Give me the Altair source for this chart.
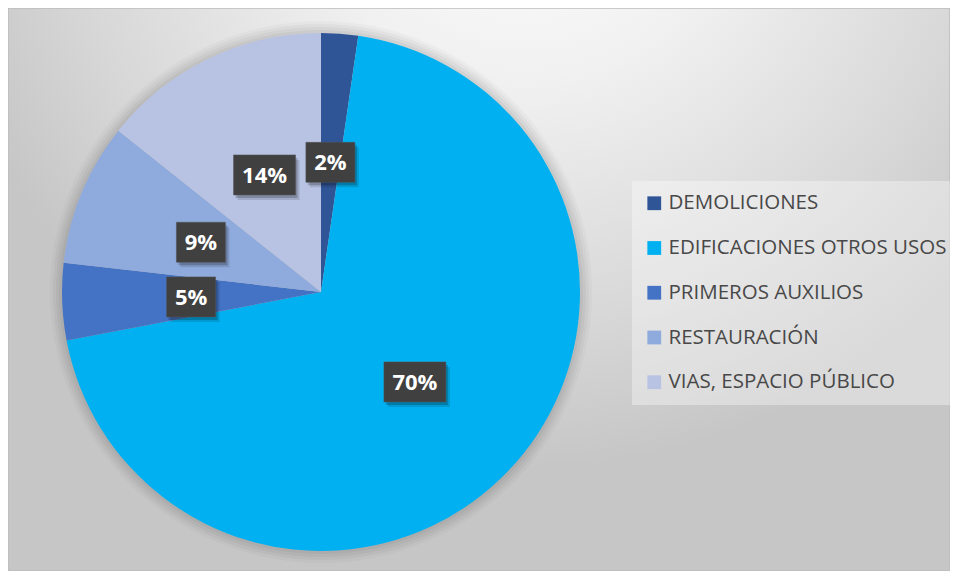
import altair as alt
import pandas as pd

# ---- data ----
categories = [
    "DEMOLICIONES",
    "EDIFICACIONES OTROS USOS",
    "PRIMEROS AUXILIOS",
    "RESTAURACIÓN",
    "VIAS, ESPACIO PÚBLICO",
]
values = [2.3, 69.7, 4.8, 8.9, 14.3]
colors = ["#2f5597", "#00b0f0", "#4472c4", "#8faadc", "#b8c3e4"]

df = pd.DataFrame({"category": categories, "value": values, "idx": list(range(len(categories)))})

# ---- layout constants ----
W, H = 942, 563
CX, CY, R, LR = 313, 284, 259, 130

bg_gradient = {
    "gradient": "radial",
    "x1": 0.55, "y1": 0.05, "r1": 0,
    "x2": 0.55, "y2": 0.05, "r2": 0.64,
    "stops": [
        {"offset": 0.0, "color": "#ffffff"},
        {"offset": 0.35, "color": "#f1f1f1"},
        {"offset": 0.75, "color": "#d8d8d8"},
        {"offset": 1.0, "color": "#c6c6c6"},
    ],
}

bg = alt.Chart(alt.Data(values=[{"k": 1}])).mark_rect(
    fill=bg_gradient, stroke="#bdbdbd", strokeWidth=1.5
).encode(
    x=alt.value(0), x2=alt.value("width"), y=alt.value(0), y2=alt.value("height")
)

shadows = []
for k, op in [(12, 0.025), (9, 0.03), (6, 0.035), (3, 0.04)]:
    shadows.append(
        alt.Chart(alt.Data(values=[{"k": 1}])).mark_arc(
            radius=R + k, theta=0, theta2=6.2832, x=CX, y=CY, opacity=op
        ).encode(fill=alt.value("#000000"))
    )

base = alt.Chart(df)

pie = base.mark_arc(radius=R, x=CX, y=CY).encode(
    theta=alt.Theta("value:Q", stack=True),
    color=alt.Color(
        "category:N",
        sort=categories,
        scale=alt.Scale(domain=categories, range=colors),
        legend=alt.Legend(
            title=None,
            orient="none",
            legendX=624,
            legendY=173,
            symbolType="square",
            symbolSize=190,
            symbolStrokeWidth=0,
            labelFontSize=20.5,
            labelFont="Open Sans",
            labelColor="#484848",
            labelOffset=4,
            labelLimit=500,
            rowPadding=23.75,
            padding=12,
            fillColor="rgba(255,255,255,0.35)",
        ),
    ),
    order=alt.Order("idx:Q"),
)

lab = (
    base.transform_joinaggregate(total="sum(value)")
    .transform_window(cum="sum(value)", sort=[alt.SortField("idx")], frame=[None, 0])
    .transform_calculate(
        pct="datum.value / datum.total",
        mid="(datum.cum - datum.value / 2) / datum.total * 2 * PI",
        lx=f"{CX} + {LR} * sin(datum.mid)",
        ly=f"{CY} - {LR} * cos(datum.mid)",
        label="format(datum.pct, '.0%')",
        hw="(23 + 13 * length(datum.label)) / 2",
        bx1="datum.lx - datum.hw",
        bx2="datum.lx + datum.hw",
        by1="datum.ly - 20",
        by2="datum.ly + 20",
    )
)

box_enc = dict(
    x=alt.X("bx1:Q", scale=None, axis=None),
    x2="bx2:Q",
    y=alt.Y("by1:Q", scale=None, axis=None),
    y2="by2:Q",
)

box_shadow1 = lab.mark_rect(
    xOffset=4, x2Offset=4, yOffset=5, y2Offset=5, fill="#000000", opacity=0.12
).encode(**box_enc)
box_shadow2 = lab.mark_rect(
    xOffset=2, x2Offset=2, yOffset=3, y2Offset=3, fill="#000000", opacity=0.2
).encode(**box_enc)
boxes = lab.mark_rect(fill="#404040", stroke="#555555", strokeWidth=0.5).encode(**box_enc)

texts = lab.mark_text(
    font="Open Sans", fontWeight="bold", fontSize=22, color="#ffffff",
    align="center", baseline="middle", dy=1
).encode(
    x=alt.X("lx:Q", scale=None, axis=None),
    y=alt.Y("ly:Q", scale=None, axis=None),
    text="label:N",
)

chart = alt.layer(bg, *shadows, pie, box_shadow1, box_shadow2, boxes, texts).properties(
    width=W, height=H, padding=0, autosize="none", background="#ffffff"
).configure_view(stroke=None)

chart.save("out.html", embed_options={"renderer": "svg", "actions": False})
